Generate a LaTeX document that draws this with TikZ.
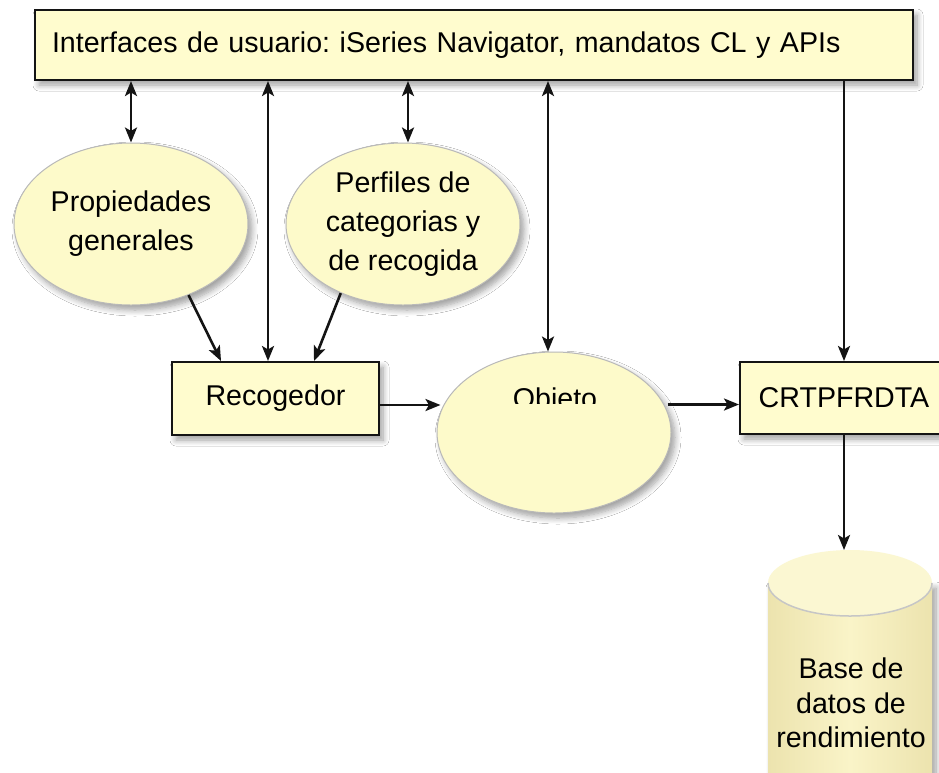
\documentclass[tikz,border=0pt]{standalone}
\usepackage{fontspec}
\setmainfont{Liberation Sans}
\usetikzlibrary{shapes.geometric,arrows.meta,shadows.blur}

\definecolor{boxfill}{RGB}{255,252,206}
\definecolor{ellfill}{RGB}{253,250,202}
\definecolor{cylside}{RGB}{236,227,174}
\definecolor{cylmid}{RGB}{250,244,200}
\definecolor{cyltop}{RGB}{251,247,210}
\definecolor{ink}{RGB}{20,20,20}

\begin{document}
\frenchspacing
\begin{tikzpicture}[x=1pt,y=-1pt,
  every node/.style={font=\fontsize{28.6}{39}\selectfont, text=black},
  softshadow/.style={blur shadow={shadow xshift=4pt, shadow yshift=-5pt,
      shadow blur steps=8, shadow blur radius=6pt, shadow opacity=38}},
  procbox/.style={rectangle, draw=ink, line width=2pt, fill=boxfill,
      inner sep=0pt, softshadow},
  store/.style={ellipse, draw=gray!55, line width=1pt, fill=ellfill,
      inner sep=0pt, minimum width=234pt, minimum height=162pt,
      align=center, softshadow},
  headtip/.tip={Stealth[length=15pt,width=12pt,inset=3.5pt]},
  link/.style={draw=ink, line width=2.6pt, -headtip},
  both/.style={draw=ink, line width=2.6pt, headtip-headtip}
]
\useasboundingbox (0,0) rectangle (939,772);
\fill[white] (0,0) rectangle (939,772);

% user interface bar
\node[procbox, minimum height=70pt, text width=844pt, inner xsep=17pt,
      align=left] (ui) at (474,45)
  {Interfaces de usuario: iSeries Navigator, mandatos CL y APIs};

% property stores
\node[store] (prop) at (131,224) {Propiedades\\generales};
\node[store] (perf) at (403,224) {Perfiles de\\categorias y\\de recogida};

% collector and output command
\node[procbox, minimum width=207pt, minimum height=73pt] (rec) at (275.5,398.5) {Recogedor};
\node[procbox, minimum width=208pt, minimum height=72pt] (crt) at (844,398) {CRTPFRDTA};

% collection object
\node[store, minimum height=161pt] (obj) at (554,432.5) {};
\begin{scope}
  \clip (430,370) rectangle (680,403);
  \node[anchor=base] (objlbl) at (555,408) {Objeto};
\end{scope}

% performance database cylinder
\path[softshadow, left color=cylside, right color=cylside, middle color=cylmid]
  (768,583) rectangle (932,800);
\path[fill=cyltop] (850,583) ellipse [x radius=82, y radius=33];
\draw[gray!45, line width=1.5pt] (768,583) arc[start angle=180, end angle=360,
  x radius=82, y radius=-33];
\node[minimum width=164pt, minimum height=240pt, anchor=north, inner sep=0pt] (db) at (850,550) {};
\node[align=center, font=\fontsize{28.6}{34.5}\selectfont] (dblbl) at (851,703)
  {Base de\\datos de\\rendimiento};

% connectors
\draw[both] (ui.south -| prop.north) -- (prop.north);
\draw[both] ([xshift=-7.5pt]ui.south -| rec.north) -- ([xshift=-7.5pt]rec.north);
\draw[both] ([xshift=5pt]ui.south -| perf.north) -- ([xshift=5pt]perf.north);
\draw[both] ([xshift=-6pt]ui.south -| obj.north) -- ([xshift=-6pt]obj.north);
\draw[link] (ui.south -| crt.north) -- (crt.north);
\draw[link] (prop.-51) -- ([xshift=50pt]rec.north west);
\draw[link] (perf.-132) -- ([xshift=-66pt]rec.north east);
\draw[link] ([yshift=-6.5pt]rec.east) -- ([yshift=-6.5pt,xshift=4pt]rec.east -| obj.west);
\draw[link] ([yshift=-6.5pt,xshift=-4pt]crt.west -| obj.east) -- ([yshift=-6.5pt]crt.west);
\draw[link] (crt.south) -- (crt.south |- db.north);
\end{tikzpicture}
\end{document}
